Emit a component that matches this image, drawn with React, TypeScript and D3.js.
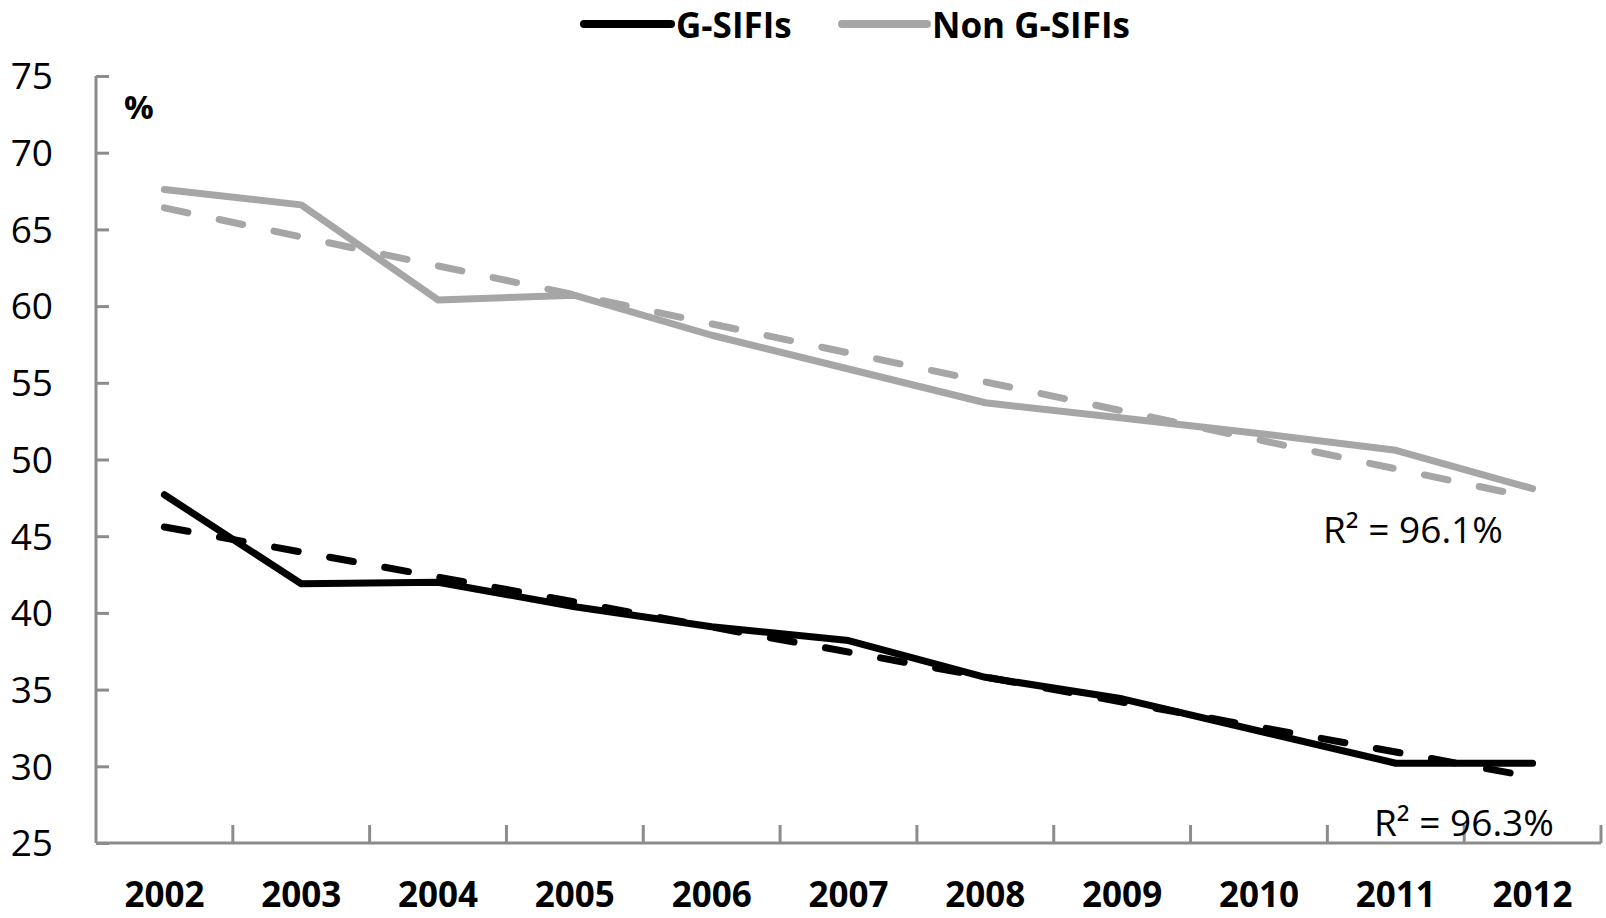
import { useEffect, useRef } from "react";
import * as d3 from "d3";

const years = ["2002", "2003", "2004", "2005", "2006", "2007", "2008", "2009", "2010", "2011", "2012"];
const gsifis = [47.7, 41.9, 42.0, 40.4, 39.1, 38.2, 35.8, 34.4, 32.3, 30.2, 30.2];
const nonGsifis = [67.6, 66.6, 60.4, 60.7, 58.1, 55.9, 53.7, 52.7, 51.7, 50.6, 48.1];
// linear trend end points (first year, last year)
const gsifisTrend = [45.6, 29.3];
const nonGsifisTrend = [66.4, 47.5];
const yTicks = [25, 30, 35, 40, 45, 50, 55, 60, 65, 70, 75];

const FONT = "'Open Sans', 'Noto Sans', sans-serif";
const GRAY = "#a6a6a6";
const AXIS = "#8c8c8c";

export default function App() {
  const ref = useRef<SVGSVGElement>(null);

  useEffect(() => {
    if (!ref.current) return;
    const svg = d3.select(ref.current);
    svg.selectAll("*").remove();

    const left = 96;
    const right = 1601;
    const top = 76;
    const bottom = 843;

    const x = d3.scaleBand().domain(years).range([left, right]).padding(0);
    const y = d3.scaleLinear().domain([25, 75]).range([bottom, top]);
    const cx = (d: string) => (x(d) || 0) + x.bandwidth() / 2;

    // Y axis with inward ticks
    svg
      .append("g")
      .attr("transform", `translate(${left},0)`)
      .call(d3.axisRight(y).tickValues(yTicks).tickSize(13).tickFormat(() => ""))
      .call((g) => g.select(".domain").attr("stroke", AXIS).attr("stroke-width", 3).attr("d", `M0,${top}V${bottom}`))
      .call((g) => g.selectAll(".tick line").attr("stroke", AXIS).attr("stroke-width", 3));

    svg
      .append("g")
      .selectAll("text")
      .data(yTicks)
      .enter()
      .append("text")
      .attr("x", 53)
      .attr("y", (d) => y(d))
      .attr("dy", "0.36em")
      .attr("text-anchor", "end")
      .style("font-family", FONT)
      .style("font-size", "37px")
      .attr("fill", "#000")
      .text((d) => d);

    // X axis: ticks at category boundaries, pointing up
    const boundaries = years.map((d) => (x(d) || 0) + x.bandwidth());
    const xAxis = svg.append("g");
    xAxis
      .append("line")
      .attr("x1", left)
      .attr("x2", right)
      .attr("y1", bottom)
      .attr("y2", bottom)
      .attr("stroke", AXIS)
      .attr("stroke-width", 3);
    xAxis
      .selectAll(".xtick")
      .data(boundaries)
      .enter()
      .append("line")
      .attr("x1", (d) => d)
      .attr("x2", (d) => d)
      .attr("y1", bottom)
      .attr("y2", bottom - 18)
      .attr("stroke", AXIS)
      .attr("stroke-width", 3);
    xAxis
      .selectAll(".xlabel")
      .data(years)
      .enter()
      .append("text")
      .attr("x", cx)
      .attr("y", 907)
      .attr("text-anchor", "middle")
      .style("font-family", FONT)
      .style("font-size", "35px")
      .style("font-weight", "bold")
      .attr("fill", "#000")
      .text((d) => d);

    // % unit label
    svg
      .append("text")
      .attr("x", 124)
      .attr("y", 119)
      .style("font-family", FONT)
      .style("font-size", "33px")
      .style("font-weight", "bold")
      .text("%");

    const line = d3
      .line<number>()
      .x((_, i) => cx(years[i]))
      .y((d) => y(d));

    const trend = (vals: number[]) =>
      `M${cx(years[0])},${y(vals[0])}L${cx(years[years.length - 1])},${y(vals[1])}`;

    // trend lines
    svg
      .append("path")
      .attr("d", trend(nonGsifisTrend))
      .attr("fill", "none")
      .attr("stroke", GRAY)
      .attr("stroke-width", 7)
      .attr("stroke-linecap", "round")
      .attr("stroke-dasharray", "24,32");
    svg
      .append("path")
      .attr("d", trend(gsifisTrend))
      .attr("fill", "none")
      .attr("stroke", "#000")
      .attr("stroke-width", 7)
      .attr("stroke-linecap", "round")
      .attr("stroke-dasharray", "24,32");

    // series lines
    svg
      .append("path")
      .attr("d", line(nonGsifis))
      .attr("fill", "none")
      .attr("stroke", GRAY)
      .attr("stroke-width", 7)
      .attr("stroke-linecap", "round")
      .attr("stroke-linejoin", "round");
    svg
      .append("path")
      .attr("d", line(gsifis))
      .attr("fill", "none")
      .attr("stroke", "#000")
      .attr("stroke-width", 7)
      .attr("stroke-linecap", "round")
      .attr("stroke-linejoin", "round");

    // R² labels
    const r2 = [
      { text: "R² = 96.1%", x: 1323, y: 543 },
      { text: "R² = 96.3%", x: 1374, y: 836 },
    ];
    svg
      .selectAll(".r2")
      .data(r2)
      .enter()
      .append("text")
      .attr("x", (d) => d.x)
      .attr("y", (d) => d.y)
      .style("font-family", FONT)
      .style("font-size", "37px")
      .attr("fill", "#000")
      .text((d) => d.text);

    // legend
    const legend = [
      { label: "G-SIFIs", color: "#000", x1: 584, x2: 671 },
      { label: "Non G-SIFIs", color: GRAY, x1: 842, x2: 927 },
    ];
    const lg = svg.selectAll(".legend").data(legend).enter().append("g");
    lg.append("line")
      .attr("x1", (d) => d.x1)
      .attr("x2", (d) => d.x2)
      .attr("y1", 24)
      .attr("y2", 24)
      .attr("stroke", (d) => d.color)
      .attr("stroke-width", 8)
      .attr("stroke-linecap", "round");
    lg.append("text")
      .attr("x", (d) => d.x2 + 5)
      .attr("y", 38)
      .style("font-family", FONT)
      .style("font-size", "35px")
      .style("font-weight", "bold")
      .attr("fill", "#000")
      .text((d) => d.label);
  }, []);

  return (
    <div style={{ position: "absolute", left: 0, top: 0 }}>
      <svg ref={ref} width={1606} height={918} style={{ display: "block", background: "#fff" }} />
    </div>
  );
}
